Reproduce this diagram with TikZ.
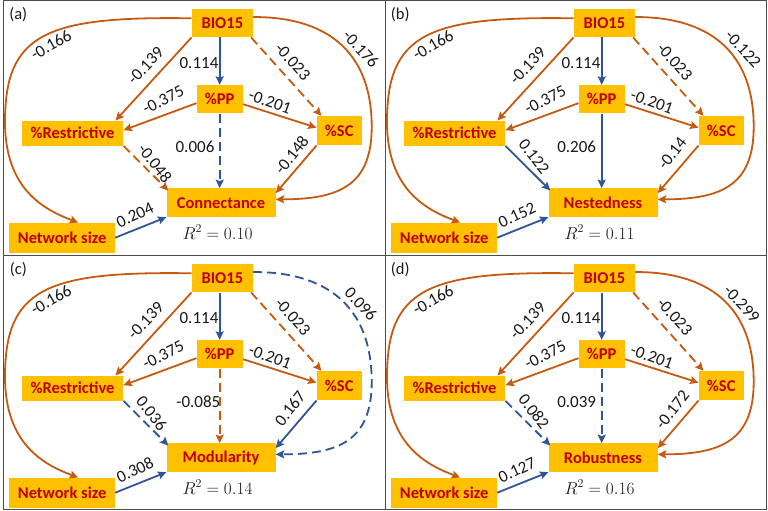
\documentclass[tikz,border=0pt]{standalone}
\usepackage[no-math]{fontspec}
\setmainfont{Carlito}
\usetikzlibrary{arrows.meta}

\definecolor{boxfill}{HTML}{FFC000}
\definecolor{boxtext}{HTML}{C00000}
\definecolor{negorange}{HTML}{C55A11}
\definecolor{posblue}{HTML}{2F5597}
\definecolor{framegray}{HTML}{4D4D4D}

\tikzset{
  box/.style={fill=boxfill, text=boxtext, font=\bfseries\fontsize{16.5}{19}\selectfont, inner sep=0pt},
  coef/.style={font=\fontsize{17}{20}\selectfont, text=black!90, inner sep=0pt},
  tagtext/.style={font=\fontsize{16.5}{19}\selectfont, text=black!90, inner sep=0pt},
  rsq/.style={font=\fontsize{17}{20}\selectfont, text=black!90, inner sep=0pt},
  link/.style={line width=1.8pt, -{Stealth[length=8.5pt,width=8pt,inset=1.5pt]}},
  posl/.style={link, draw=posblue},
  negl/.style={link, draw=negorange},
  dashedline/.style={dash pattern=on 9pt off 5pt},
  frame/.style={draw=framegray, line width=1pt},
}

% Boxes and paths shared by every panel:
% #1 panel letter, #2 response variable, #3 R^2 value, #4 network-size coefficient
\newcommand\sempanel[4]{%
  \node[tagtext] (tag) at (18.3,15) {(#1)};
  \node[box, minimum width=61.3pt, minimum height=28.5pt] (bio) at (222.35,23.05) {BIO15};
  \node[box, minimum width=46pt, minimum height=28.3pt] (pp) at (219.7,99.15) {\%PP};
  \node[box, minimum width=101.6pt, minimum height=25pt] (res) at (72.5,133.2) {\%Restrictive};
  \node[box, minimum width=45pt, minimum height=29.3pt] (sc) at (339.2,130.65) {\%SC};
  \node[box, minimum width=109pt, minimum height=28.7pt] (tgt) at (221,202.65) {#2};
  \node[box, minimum width=105.7pt, minimum height=30pt] (ns) at (62.15,237.7) {Network size};
  \node[rsq] (r2) at (217.5,232) {$R^2 = #3$};
  \coordinate (lbend) at (5,122);
  \coordinate (rbend) at (371.7,126.7);
  % paths common to all panels
  \draw[posl] (pp.north |- bio.south) -- (pp.north);
  \draw[negl] (bio.south west) -- ([xshift=-8pt]res.north east);
  \draw[negl,dashedline] ([xshift=-2pt]bio.south east) -- ([xshift=5pt]sc.north west);
  \draw[negl] ([yshift=-4pt]pp.west) -- ([yshift=3pt]res.east);
  \draw[negl] ([yshift=-5pt]pp.east) -- ([yshift=3pt]sc.west);
  \draw[negl] ([yshift=4.75pt]bio.west) .. controls (45,16) and (5,34) .. (lbend)
              .. controls (5,190) and (45,210) .. ([xshift=16pt]ns.north);
  \draw[posl] (ns.east) -- (tgt.south west);
  % coefficients common to all panels
  \node[coef] (c114) at (199,63.3) {0.114};
  \node[coef, rotate=30] (c166) at (51,45) {-0.166};
  \node[coef, rotate=47] (c139) at (145.7,65.7) {-0.139};
  \node[coef, rotate=-48] (c023) at (292.7,61.7) {-0.023};
  \node[coef, rotate=27] (c375) at (163.3,100) {-0.375};
  \node[coef, rotate=-20] (c201) at (270,101.7) {-0.201};
  \node[coef, rotate=25] (cns) at (135,215) {#4};
}

% arc from BIO15 around the right side into the response box
\newcommand\outerarc[1]{%
  \draw[#1] ([yshift=6pt]bio.east) .. controls (325,16.7) and (371.7,50) .. (rbend)
        .. controls (371.7,185) and (340,199.3) .. ([yshift=3.3pt]tgt.east);
}

\begin{document}
\begin{tikzpicture}[x=1pt,y=-1pt]
\useasboundingbox (0,0) rectangle (768,511);
\fill[white] (0,0) rectangle (768,511);
\draw[frame] (3,0.8) rectangle (766,509.5);
\draw[frame] (385,0.8) -- (385,509.5);
\draw[frame] (3,255) -- (766,255);

% (a) connectance
\begin{scope}[name prefix=a-]
  \sempanel{a}{Connectance}{0.10}{0.204}
  \draw[posl,dashedline] (pp.south) -- (pp.south |- tgt.north);
  \draw[negl,dashedline] (res.south east) -- ([xshift=2pt,yshift=-2.4pt]tgt.north west);
  \draw[negl] (sc.south west) -- ([yshift=-5pt]tgt.north east);
  \outerarc{negl}
  \node[coef] (cpp) at (195,146.7) {0.006};
  \node[coef, rotate=-52] (cres) at (155,163.3) {-0.048};
  \node[coef, rotate=52] (csc) at (291.7,155) {-0.148};
  \node[coef, rotate=-47] (cbio) at (361,49) {-0.176};
\end{scope}

% (b) nestedness
\begin{scope}[shift={(382,0)}, name prefix=b-]
  \sempanel{b}{Nestedness}{0.11}{0.152}
  \draw[posl] (pp.south) -- (pp.south |- tgt.north);
  \draw[posl] (res.south east) -- ([xshift=2pt,yshift=-2.4pt]tgt.north west);
  \draw[negl] (sc.south west) -- ([yshift=-5pt]tgt.north east);
  \outerarc{negl}
  \node[coef] (cpp) at (194.7,146.7) {0.206};
  \node[coef, rotate=-52] (cres) at (152,156.7) {0.122};
  \node[coef, rotate=52] (csc) at (290.3,153.3) {-0.14};
  \node[coef, rotate=-47] (cbio) at (361,49) {-0.122};
\end{scope}

% (c) modularity
\begin{scope}[shift={(0,255)}, name prefix=c-]
  \sempanel{c}{Modularity}{0.14}{0.308}
  \draw[negl,dashedline] (pp.south) -- (pp.south |- tgt.north);
  \draw[posl,dashedline] (res.south east) -- ([xshift=2pt,yshift=-2.4pt]tgt.north west);
  \draw[posl] (sc.south west) -- ([yshift=-5pt]tgt.north east);
  \outerarc{posl,dashedline}
  \node[coef] (cpp) at (198.3,146.7) {-0.085};
  \node[coef, rotate=-52] (cres) at (151.7,158.3) {0.036};
  \node[coef, rotate=52] (csc) at (290,153.3) {0.167};
  \node[coef, rotate=-47] (cbio) at (361,49) {0.096};
\end{scope}

% (d) robustness
\begin{scope}[shift={(382,255)}, name prefix=d-]
  \sempanel{d}{Robustness}{0.16}{0.127}
  \draw[posl,dashedline] (pp.south) -- (pp.south |- tgt.north);
  \draw[posl,dashedline] (res.south east) -- ([xshift=2pt,yshift=-2.4pt]tgt.north west);
  \draw[negl] (sc.south west) -- ([yshift=-5pt]tgt.north east);
  \outerarc{negl}
  \node[coef] (cpp) at (194.7,146.7) {0.039};
  \node[coef, rotate=-52] (cres) at (152,156.7) {0.082};
  \node[coef, rotate=52] (csc) at (290.3,155) {-0.172};
  \node[coef, rotate=-47] (cbio) at (359.7,49) {-0.299};
\end{scope}
\end{tikzpicture}
\end{document}
